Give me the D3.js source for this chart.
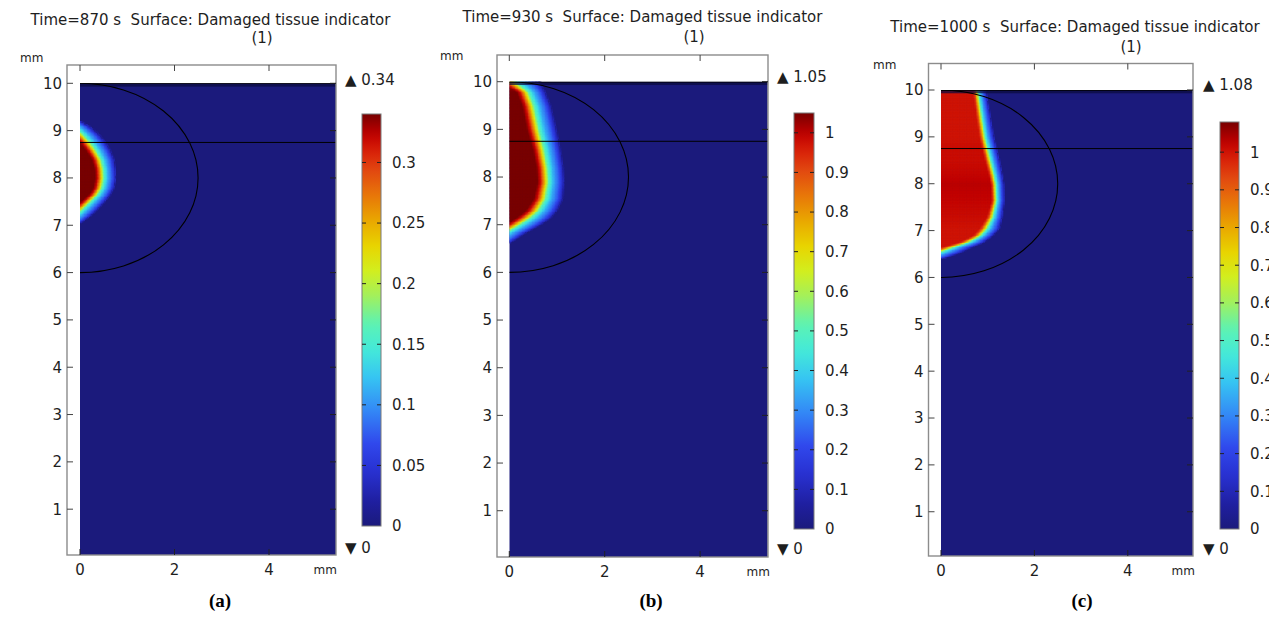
<!DOCTYPE html>
<html>
<head>
<meta charset="utf-8">
<script src="https://cdn.jsdelivr.net/npm/d3@7"></script>
<style>
  html, body { margin: 0; padding: 0; background: #fff; overflow: hidden; }
  svg { display: block; }
  text { font-family: "DejaVu Sans", sans-serif; fill: #1e1e1e; }
  .caption { font-family: "Liberation Serif", "Times New Roman", serif; font-weight: bold; fill: #000; }
</style>
</head>
<body>
<svg id="chart" width="1269" height="617"></svg>
<script>
// ---- values ----
const times = [870, 930, 1000];
const captions = ["(a)", "(b)", "(c)"];
const quantity = "Damaged tissue indicator";
const unitLabel = "(1)";
const maxValues = [0.34, 1.05, 1.08];
const minValues = [0, 0, 0];
const xTicks = [0, 2, 4];
const yTicks = [1, 2, 3, 4, 5, 6, 7, 8, 9, 10];
const barTicksA = [0, 0.05, 0.1, 0.15, 0.2, 0.25, 0.3];
const barTicksB = [0, 0.1, 0.2, 0.3, 0.4, 0.5, 0.6, 0.7, 0.8, 0.9, 1];
const barTicksC = [0, 0.1, 0.2, 0.3, 0.4, 0.5, 0.6, 0.7, 0.8, 0.9, 1];

// geometry, mm
const tissueWidth = 5.42;
const tissueHeight = 10;
const layerDepth = 8.75;
const tumourCentre = 8;
const tumourRx = 2.5;
const tumourRy = 2;

// damage front by depth: [y, x where plateau ends, x where damage fades out, plateau level]
const frontA = [
  [9.22, -0.45, 0.00, 0.34],
  [9.08, -0.32, 0.24, 0.34],
  [8.92, -0.16, 0.42, 0.34],
  [8.75,  0.00, 0.56, 0.34],
  [8.60,  0.12, 0.65, 0.34],
  [8.40,  0.25, 0.73, 0.34],
  [8.20,  0.31, 0.76, 0.34],
  [8.00,  0.32, 0.77, 0.34],
  [7.80,  0.28, 0.73, 0.34],
  [7.65,  0.18, 0.65, 0.34],
  [7.50,  0.00, 0.53, 0.34],
  [7.35, -0.16, 0.39, 0.34],
  [7.20, -0.32, 0.23, 0.34],
  [7.04, -0.45, 0.00, 0.34]
];
const frontB = [
  [10.00, -0.20, 0.66, 1.00],
  [9.80,  0.15, 0.76, 1.05],
  [9.50,  0.27, 0.88, 1.05],
  [9.00,  0.37, 1.00, 1.05],
  [8.60,  0.49, 1.08, 1.05],
  [8.20,  0.57, 1.14, 1.05],
  [7.90,  0.59, 1.16, 1.05],
  [7.55,  0.51, 1.13, 1.05],
  [7.30,  0.34, 1.01, 1.05],
  [7.15,  0.14, 0.88, 1.05],
  [7.00, -0.10, 0.66, 1.05],
  [6.85, -0.35, 0.38, 1.05],
  [6.62, -0.60, 0.02, 1.05]
];
const frontC = [
  [10.00, 0.68, 0.97, 1.00],
  [9.70,  0.72, 1.02, 1.00],
  [9.40,  0.76, 1.07, 1.00],
  [9.00,  0.82, 1.14, 1.00],
  [8.75,  0.88, 1.20, 1.01],
  [8.50,  0.94, 1.26, 1.01],
  [8.20,  1.02, 1.32, 1.02],
  [8.00,  1.06, 1.35, 1.03],
  [7.65,  1.08, 1.36, 1.02],
  [7.30,  0.98, 1.32, 1.01],
  [7.05,  0.82, 1.26, 1.00],
  [6.90,  0.68, 1.12, 1.00],
  [6.75,  0.36, 0.92, 1.00],
  [6.65,  0.00, 0.67, 1.00],
  [6.55, -0.30, 0.47, 1.00],
  [6.42, -0.60, 0.10, 1.00]
];
const fronts = [frontA, frontB, frontC];
const barTicks = [barTicksA, barTicksB, barTicksC];

// rainbow colour table (fraction of range -> colour)
const rampStops  = [0, 0.06, 0.13, 0.2, 0.28, 0.36, 0.43, 0.49, 0.56, 0.62, 0.68, 0.74, 0.8, 0.86, 0.91, 0.95, 1];
const rampColors = ["#1b1a7c", "#1f1fa0", "#2830d0", "#3048ec", "#3388f6", "#36c4f2", "#44ead8", "#5cf2b4",
                    "#a4f05a", "#d2ee1e", "#e8d400", "#e9a800", "#e87808", "#e24a10", "#d82008", "#c00000", "#780000"];

// shape of the fall-off across the damage front (0 = faded out, 1 = plateau)
const fadeAt    = [0, 0.06, 0.20, 0.40, 0.60, 0.75, 0.88, 1];
const fadeShare = [0, 0.10, 0.22, 0.33, 0.50, 0.75, 0.93, 1];

// ---- layout (pixels) ----
const layout = [
  { frame: [67, 65, 336, 555],     x0: 80,    xs: 47.25, y10: 83.3, y0: 556.5,
    bar: [362, 114, 381, 526],  title: [210.5, 25], unit: [262, 43],
    mmY: [20, 62], mmX: [337, 574], tickBase: 575, maxLab: [345, 85], minLab: [345, 553], cap: [220, 607] },
  { frame: [497, 55, 768, 557],    x0: 509.3, xs: 47.7,  y10: 81.7, y0: 558.4,
    bar: [794, 113, 814, 529],  title: [642.5, 22], unit: [694, 42],
    mmY: [440, 60], mmX: [770, 576], tickBase: 577, maxLab: [777, 82], minLab: [777, 554], cap: [651, 607] },
  { frame: [928.5, 63.5, 1193, 556], x0: 941,  xs: 46.7,  y10: 90,   y0: 558.6,
    bar: [1220, 122, 1239, 529], title: [1075, 32], unit: [1131, 52],
    mmY: [873, 69], mmX: [1195, 575], tickBase: 576, maxLab: [1203, 90], minLab: [1203, 554], cap: [1082, 607] }
];

const svg = d3.select("#chart");
const defs = svg.append("defs");

const ramp = d3.scaleLinear().domain(rampStops).range(rampColors)
  .interpolate(d3.interpolateRgb).clamp(true);
const fade = d3.scaleLinear().domain(fadeAt).range(fadeShare).clamp(true);

layout.forEach((L, i) => {
  const vmax = maxValues[i], vmin = minValues[i];
  const [fl, ft, fr, fb] = L.frame;
  const x = d3.scaleLinear().domain([0, 4]).range([L.x0, L.x0 + 4 * L.xs]);
  const y = d3.scaleLinear().domain([0, 10]).range([L.y0, L.y10]);
  const colour = v => ramp((v - vmin) / (vmax - vmin));

  const g = svg.append("g");

  // clip to the tissue
  const clipId = "tissue" + i;
  defs.append("clipPath").attr("id", clipId).append("rect")
    .attr("x", x(0)).attr("y", y(tissueHeight))
    .attr("width", Math.min(x(tissueWidth), fr) - x(0))
    .attr("height", fb - y(tissueHeight));

  const body = g.append("g").attr("clip-path", `url(#${clipId})`);
  body.append("rect")
    .attr("x", x(0)).attr("y", y(tissueHeight))
    .attr("width", x(tissueWidth) - x(0)).attr("height", y(0) - y(tissueHeight))
    .attr("fill", colour(0));

  // damage field
  const rows = fronts[i].slice().sort((a, b) => a[0] - b[0]);
  const ys = rows.map(r => r[0]);
  const coreAt  = d3.scaleLinear().domain(ys).range(rows.map(r => r[1]));
  const edgeAt  = d3.scaleLinear().domain(ys).range(rows.map(r => r[2]));
  const levelAt = d3.scaleLinear().domain(ys).range(rows.map(r => r[3]));
  const yLo = ys[0], yHi = ys[ys.length - 1];
  const xHi = d3.max(rows, r => r[2]);
  const step = 0.03;
  const cells = [];
  for (let yy = yLo + step / 2; yy < yHi + step; yy += step) {
    const yc = Math.min(yy, yHi);
    const c = coreAt(yc), e = edgeAt(yc), lv = levelAt(yc);
    for (let xx = step / 2; xx < xHi; xx += step) {
      const t = (e - xx) / (e - c);
      const v = lv * fade(t);
      if (v > 0.01 * vmax) cells.push({ x: xx, y: yy, v });
    }
  }
  const cw = x(step) - x(0) + 0.6, ch = y(0) - y(step) + 0.6;
  body.selectAll("rect.cell").data(cells).join("rect")
    .attr("class", "cell")
    .attr("x", d => x(d.x - step / 2))
    .attr("y", d => y(d.y + step / 2))
    .attr("width", cw).attr("height", ch)
    .attr("fill", d => colour(d.v));

  // skin layer along the top surface
  body.append("rect")
    .attr("x", x(0)).attr("y", y(tissueHeight))
    .attr("width", x(tissueWidth) - x(0)).attr("height", y(tissueHeight - 0.07) - y(tissueHeight))
    .attr("fill", "#0c0c40").attr("fill-opacity", 0.75);
  body.append("line")
    .attr("x1", x(0)).attr("x2", x(tissueWidth))
    .attr("y1", y(tissueHeight)).attr("y2", y(tissueHeight))
    .attr("stroke", "#000").attr("stroke-width", 1.6);

  // layer boundary and tumour outline
  body.append("line")
    .attr("x1", x(0)).attr("x2", x(tissueWidth))
    .attr("y1", y(layerDepth)).attr("y2", y(layerDepth))
    .attr("stroke", "#000").attr("stroke-width", 1);
  const rxp = x(tumourRx) - x(0), ryp = y(tumourCentre) - y(tumourCentre + tumourRy);
  body.append("path")
    .attr("d", `M${x(0)},${y(tumourCentre + tumourRy)} A${rxp},${ryp} 0 0 1 ${x(0)},${y(tumourCentre - tumourRy)}`)
    .attr("fill", "none").attr("stroke", "#000").attr("stroke-width", 1.1);

  // frame and ticks
  g.append("rect")
    .attr("x", fl).attr("y", ft).attr("width", fr - fl).attr("height", fb - ft)
    .attr("fill", "none").attr("stroke", "#8c8c8c").attr("stroke-width", 1.4);
  const tk = 6;
  yTicks.forEach(v => {
    g.append("line").attr("x1", fl).attr("x2", fl + tk).attr("y1", y(v)).attr("y2", y(v))
      .attr("stroke", "#444").attr("stroke-width", 1);
    g.append("line").attr("x1", fr - tk).attr("x2", fr).attr("y1", y(v)).attr("y2", y(v))
      .attr("stroke", "#222").attr("stroke-width", 1);
    g.append("text").attr("x", fl - 5).attr("y", y(v)).attr("dy", "0.36em")
      .attr("text-anchor", "end").attr("font-size", 15).text(v);
  });
  xTicks.forEach(v => {
    g.append("line").attr("x1", x(v)).attr("x2", x(v)).attr("y1", ft).attr("y2", ft + tk)
      .attr("stroke", "#444").attr("stroke-width", 1);
    g.append("line").attr("x1", x(v)).attr("x2", x(v)).attr("y1", fb - tk).attr("y2", fb)
      .attr("stroke", "#222").attr("stroke-width", 1);
    g.append("text").attr("x", x(v)).attr("y", L.tickBase)
      .attr("text-anchor", "middle").attr("font-size", 15).text(v);
  });
  g.append("text").attr("x", L.mmY[0]).attr("y", L.mmY[1]).attr("font-size", 12).text("mm");
  g.append("text").attr("x", L.mmX[0]).attr("y", L.mmX[1]).attr("text-anchor", "end")
    .attr("font-size", 12).text("mm");

  // title
  g.append("text").attr("x", L.title[0]).attr("y", L.title[1])
    .attr("text-anchor", "middle").attr("font-size", 15).style("white-space", "pre")
    .text(`Time=${times[i]} s  Surface: ${quantity}`);
  g.append("text").attr("x", L.unit[0]).attr("y", L.unit[1])
    .attr("text-anchor", "middle").attr("font-size", 15).text(unitLabel);

  // colour bar
  const [bl, bt, br, bb] = L.bar;
  const gradId = "ramp" + i;
  const grad = defs.append("linearGradient").attr("id", gradId)
    .attr("x1", 0).attr("y1", 1).attr("x2", 0).attr("y2", 0);
  d3.range(0, 1.0001, 0.02).forEach(f => {
    grad.append("stop").attr("offset", f).attr("stop-color", ramp(f));
  });
  const bScale = d3.scaleLinear().domain([vmin, vmax]).range([bb, bt]);
  g.append("rect").attr("x", bl).attr("y", bt).attr("width", br - bl).attr("height", bb - bt)
    .attr("fill", `url(#${gradId})`).attr("stroke", "#7a7a7a").attr("stroke-width", 1);
  barTicks[i].forEach(v => {
    const yy = bScale(v);
    if (v > vmin) {
      g.append("line").attr("x1", bl).attr("x2", bl + 4).attr("y1", yy).attr("y2", yy)
        .attr("stroke", "#222").attr("stroke-width", 1);
      g.append("line").attr("x1", br - 4).attr("x2", br).attr("y1", yy).attr("y2", yy)
        .attr("stroke", "#222").attr("stroke-width", 1);
    }
    g.append("text").attr("x", br + 11).attr("y", yy).attr("dy", "0.36em")
      .attr("font-size", 15).text(d3.format("~g")(v));
  });
  g.append("text").attr("x", L.maxLab[0]).attr("y", L.maxLab[1]).attr("font-size", 15)
    .text("\u25B2 " + d3.format("~g")(vmax));
  g.append("text").attr("x", L.minLab[0]).attr("y", L.minLab[1]).attr("font-size", 15)
    .text("\u25BC " + d3.format("~g")(vmin));

  // panel caption
  svg.append("text").attr("class", "caption").attr("x", L.cap[0]).attr("y", L.cap[1])
    .attr("text-anchor", "middle").attr("font-size", 19).text(captions[i]);
});
</script>
</body>
</html>
